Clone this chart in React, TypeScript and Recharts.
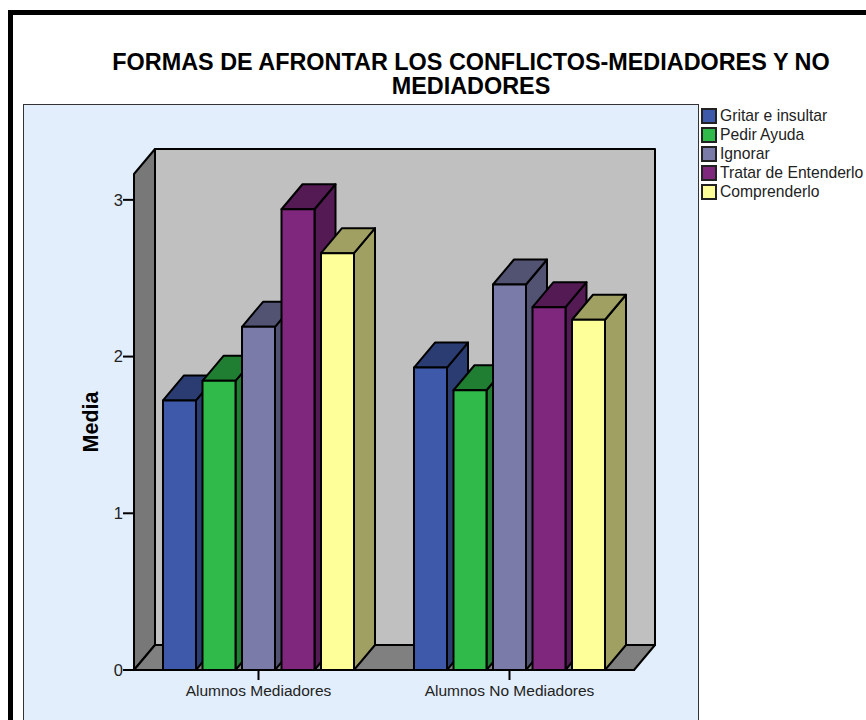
import { BarChart, Bar, XAxis, YAxis, Legend, usePlotArea } from 'recharts'

const categories = ['Alumnos Mediadores', 'Alumnos No Mediadores']
const gritar = [1.72, 1.93]
const pedir = [1.845, 1.785]
const ignorar = [2.19, 2.46]
const tratar = [2.94, 2.315]
const comprender = [2.66, 2.235]
const yTicks = [0, 1, 2, 3]

const data = categories.map((name, i) => ({
  name,
  gritar: gritar[i],
  pedir: pedir[i],
  ignorar: ignorar[i],
  tratar: tratar[i],
  comprender: comprender[i],
}))

const series = [
  { key: 'gritar', label: 'Gritar e insultar', fill: '#3e59a9', dark: '#2a3c72' },
  { key: 'pedir', label: 'Pedir Ayuda', fill: '#2fba4a', dark: '#207e32' },
  { key: 'ignorar', label: 'Ignorar', fill: '#7b7ba9', dark: '#525272' },
  { key: 'tratar', label: 'Tratar de Entenderlo', fill: '#7e277d', dark: '#541a54' },
  { key: 'comprender', label: 'Comprenderlo', fill: '#ffff99', dark: '#a0a062' },
]

const DX = 21
const DY = 25
const FONT = '"Liberation Sans", Arial, sans-serif'

// back wall, side wall and floor of the 3D box
function Room() {
  const plot = usePlotArea()
  if (!plot) return null
  const x = plot.x + 1
  const y = plot.y
  const width = plot.width - 2
  const bottom = y + plot.height
  const right = x + width
  return (
    <g stroke="#000" strokeWidth={2} strokeLinejoin="round">
      <rect x={x + DX} y={y - DY} width={width} height={plot.height} fill="#c0c0c0" />
      <path d={`M${x},${y} L${x + DX},${y - DY} L${x + DX},${bottom - DY} L${x},${bottom} Z`} fill="#787878" />
      <path d={`M${x},${bottom} L${x + DX},${bottom - DY} L${right + DX},${bottom - DY} L${right},${bottom} Z`} fill="#808080" />
    </g>
  )
}

function Bar3D({ x, y, width, height, fill, dark }: any) {
  return (
    <g stroke="#000" strokeWidth={2} strokeLinejoin="round">
      <path
        d={`M${x + width},${y} L${x + width + DX},${y - DY} L${x + width + DX},${y + height - DY} L${x + width},${y + height} Z`}
        fill={dark}
      />
      <path d={`M${x},${y} L${x + DX},${y - DY} L${x + width + DX},${y - DY} L${x + width},${y} Z`} fill={dark} />
      <rect x={x} y={y} width={width} height={height} fill={fill} />
    </g>
  )
}

function LegendBox() {
  return (
    <div style={{ fontFamily: FONT, fontSize: 15.7, color: '#222' }}>
      {series.map((s) => (
        <div key={s.key} style={{ display: 'flex', alignItems: 'center', height: 19 }}>
          <span
            style={{
              width: 12,
              height: 12,
              background: s.fill,
              border: '2px solid #222',
              marginRight: 3,
              display: 'inline-block',
            }}
          />
          <span style={{ whiteSpace: 'nowrap' }}>{s.label}</span>
        </div>
      ))}
    </div>
  )
}

export default function App() {
  return (
    <div style={{ position: 'absolute', left: 0, top: 0, width: 866, height: 720, overflow: 'hidden', background: '#fff' }}>
      <div style={{ position: 'absolute', left: 8, top: 10, width: 880, height: 740, border: '5px solid #000', boxSizing: 'border-box' }} />
      <div
        style={{
          position: 'absolute',
          left: 23,
          top: 104,
          width: 676,
          height: 640,
          background: '#e2eefb',
          border: '1.5px solid #333',
          boxSizing: 'border-box',
        }}
      />
      <div
        style={{
          position: 'absolute',
          left: 100,
          top: 50,
          width: 742,
          textAlign: 'center',
          fontFamily: FONT,
          fontWeight: 700,
          fontSize: 23.4,
          lineHeight: '24px',
          color: '#000',
        }}
      >
        FORMAS DE AFRONTAR LOS CONFLICTOS-MEDIADORES Y NO MEDIADORES
      </div>
      <div style={{ position: 'absolute', left: 0, top: 0 }}>
        <BarChart
          width={866}
          height={720}
          data={data}
          margin={{ top: 174, right: 231, bottom: 10, left: 73 }}
          barSize={33}
          barGap={6.5}
        >
          <Room />
          <XAxis
            dataKey="name"
            height={40}
            axisLine={{ stroke: '#000', strokeWidth: 2 }}
            tickLine={{ stroke: '#000', strokeWidth: 2 }}
            tickSize={10}
            tickMargin={5}
            tick={{ fill: '#222', fontSize: 15.5, fontFamily: FONT }}
          />
          <YAxis
            width={60}
            domain={[0, 3.165]}
            ticks={yTicks}
            allowDataOverflow
            axisLine={false}
            tickLine={{ stroke: '#000', strokeWidth: 2 }}
            tickSize={10}
            tickMargin={0}
            tick={{ fill: '#222', fontSize: 16.5, fontFamily: FONT }}
            label={{
              value: 'Media',
              angle: -90,
              position: 'insideLeft',
              offset: 17,
              style: { fontFamily: FONT, fontWeight: 700, fontSize: 21.5, fill: '#000', textAnchor: 'middle' },
            }}
          />
          {series.map((s) => (
            <Bar
              key={s.key}
              dataKey={s.key}
              name={s.label}
              fill={s.fill}
              isAnimationActive={false}
              shape={(props: any) => <Bar3D {...props} dark={s.dark} />}
            />
          ))}
          <Legend
            layout="vertical"
            align="center"
            verticalAlign="middle"
            content={<LegendBox />}
            wrapperStyle={{ left: 701, top: 106, width: 165 }}
          />
        </BarChart>
      </div>
    </div>
  )
}
